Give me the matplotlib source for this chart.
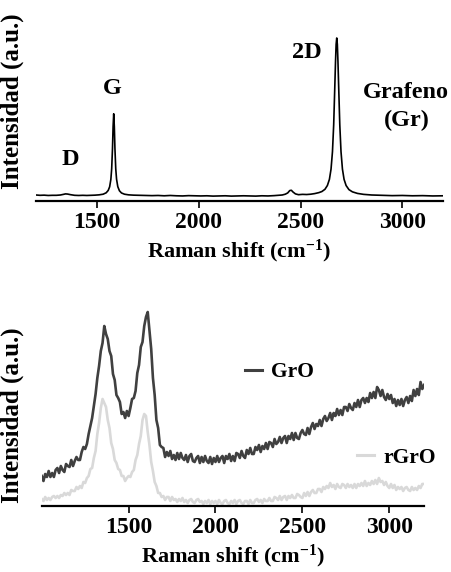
import numpy as np
import matplotlib
matplotlib.use("Agg")
import matplotlib.pyplot as plt

# --- Grafeno (Gr) spectrum, normalised so the 2D peak is 1 ---
gr_shift = [1200, 1220, 1240, 1260, 1280, 1300, 1320, 1335, 1345, 1355, 1370, 1390,
            1410, 1430, 1450, 1470, 1490, 1510, 1530, 1545, 1555, 1562, 1568, 1572,
            1576, 1579, 1582, 1585, 1588, 1592, 1596, 1602, 1610, 1620, 1635, 1655,
            1680, 1710, 1740, 1770, 1800, 1830, 1860, 1890, 1920, 1950, 1980, 2010,
            2040, 2070, 2100, 2130, 2160, 2190, 2220, 2250, 2280, 2310, 2340, 2370,
            2390, 2410, 2425, 2437, 2447, 2455, 2463, 2475, 2490, 2510, 2530, 2550,
            2570, 2590, 2605, 2620, 2632, 2642, 2650, 2657, 2663, 2668, 2672, 2675,
            2678, 2681, 2684, 2688, 2693, 2699, 2706, 2714, 2724, 2738, 2755, 2780,
            2810, 2850, 2900, 2950, 3000, 3050, 3100, 3150, 3200]
gr_int = [0.006, 0.004, 0.005, 0.003, 0.004, 0.004, 0.006, 0.010, 0.013, 0.012, 0.008, 0.004,
          0.003, 0.004, 0.003, 0.004, 0.005, 0.007, 0.011, 0.020, 0.035, 0.058, 0.105, 0.172,
          0.300, 0.440, 0.520, 0.440, 0.300, 0.172, 0.106, 0.059, 0.033, 0.019, 0.011, 0.007,
          0.005, 0.004, 0.003, 0.002, 0.003, 0.001, 0.003, 0.001, 0.000, 0.002, 0.001, 0.000,
          0.001, -0.001, 0.000, 0.001, -0.001, 0.000, 0.001, 0.000, -0.001, 0.001, 0.000, 0.002,
          0.004, 0.006, 0.011, 0.019, 0.034, 0.036, 0.025, 0.013, 0.008, 0.010, 0.009, 0.011,
          0.015, 0.021, 0.028, 0.042, 0.066, 0.105, 0.170, 0.280, 0.450, 0.670, 0.850, 0.960,
          1.000, 0.960, 0.850, 0.670, 0.450, 0.280, 0.170, 0.105, 0.066, 0.040, 0.026, 0.016,
          0.010, 0.006, 0.004, 0.002, 0.003, 0.001, 0.002, 0.000, 0.001]

gr_ticks = [1500, 2000, 2500, 3000]
gr_peaks = ["D", "G", "2D"]
gr_peak_pos = [(1367, 0.23), (1577, 0.68), (2533, 0.91)]

# --- GrO and rGrO spectra (a.u.), sampled every 10 cm-1 from 1000 to 3200 ---
go_shift = np.arange(1000, 3201, 10)
gro_int = [
    30, 25, 32, 29, 35, 29, 33, 29, 36, 38,            # 1000
    33, 40, 36, 34, 42, 40, 39, 46, 40, 45,            # 1100
    49, 46, 46, 54, 59, 57, 62, 72, 80, 88,            # 1200
    100, 112, 128, 140, 155, 163, 180, 172, 167, 155,  # 1300
    150, 132, 126, 111, 108, 104, 92, 94, 88, 95,      # 1400
    90, 98, 107, 108, 115, 133, 141, 159, 164, 180,    # 1500
    189, 194, 175, 157, 128, 111, 86, 78, 61, 59,      # 1600
    58, 49, 54, 50, 55, 47, 51, 46, 53, 47,            # 1700
    53, 48, 46, 51, 44, 50, 52, 45, 44, 48,            # 1800
    50, 43, 49, 44, 50, 45, 43, 49, 42, 48,            # 1900
    44, 50, 44, 48, 50, 43, 50, 47, 52, 45,            # 2000
    50, 45, 53, 52, 48, 55, 50, 48, 56, 52,            # 2100
    58, 52, 52, 59, 56, 61, 54, 60, 57, 63,            # 2200
    57, 64, 63, 59, 67, 62, 64, 69, 63, 68,            # 2300
    70, 63, 70, 67, 73, 66, 73, 68, 67, 73,            # 2400
    76, 72, 71, 78, 72, 79, 83, 77, 82, 80,            # 2500
    86, 80, 87, 90, 85, 88, 93, 86, 93, 90,            # 2600
    97, 91, 96, 91, 99, 99, 95, 102, 98, 96,           # 2700
    103, 99, 106, 99, 106, 108, 103, 108, 104, 113,    # 2800
    108, 114, 108, 119, 116, 110, 116, 109, 106, 112,  # 2900
    107, 111, 103, 107, 100, 106, 101, 107, 100, 106,  # 3000
    109, 103, 110, 105, 116, 110, 117, 111, 124, 117,  # 3100
    121]
rgro_int = [
    7, 5, 9, 6, 8, 6, 9, 10, 8, 10,
    8, 11, 10, 13, 11, 13, 11, 16, 15, 15,
    19, 17, 20, 18, 24, 23, 28, 30, 37, 38,
    48, 55, 72, 83, 98, 107, 103, 99, 86, 78,
    63, 57, 46, 43, 37, 36, 30, 30, 25, 28,
    30, 29, 34, 36, 46, 51, 62, 70, 86, 92,
    90, 74, 61, 44, 35, 24, 20, 13, 13, 9,
    10, 6, 9, 9, 5, 9, 6, 7, 4, 7,
    5, 8, 4, 6, 3, 6, 7, 4, 3, 6,
    7, 4, 5, 2, 5, 3, 6, 2, 5, 3,
    5, 2, 6, 3, 2, 5, 6, 3, 2, 5,
    3, 6, 2, 5, 6, 3, 2, 5, 5, 2,
    6, 3, 3, 6, 7, 4, 6, 3, 7, 5,
    5, 8, 5, 5, 9, 8, 6, 10, 6, 9,
    10, 6, 10, 8, 11, 8, 8, 12, 11, 9,
    8, 13, 10, 14, 10, 14, 16, 13, 13, 17,
    17, 14, 19, 17, 20, 18, 23, 19, 21, 17,
    22, 19, 18, 22, 21, 18, 22, 19, 21, 18,
    22, 18, 22, 20, 23, 20, 25, 20, 23, 21,
    25, 22, 26, 22, 28, 24, 25, 21, 24, 20,
    18, 22, 18, 21, 16, 19, 17, 19, 15, 18,
    19, 16, 15, 19, 16, 18, 16, 20, 18, 22,
    22]
go_ticks = [1500, 2000, 2500, 3000]

plt.rcParams["font.family"] = ["Liberation Serif", "DejaVu Serif"]
plt.rcParams["font.weight"] = "bold"
plt.rcParams["mathtext.fontset"] = "custom"
plt.rcParams["mathtext.rm"] = "Liberation Serif:bold"
plt.rcParams["mathtext.it"] = "Liberation Serif:italic:bold"
plt.rcParams["mathtext.bf"] = "Liberation Serif:bold"


def style_axis(ax, ticks):
    for side in ("left", "right", "top"):
        ax.spines[side].set_visible(False)
    ax.spines["bottom"].set_linewidth(1.6)
    ax.set_yticks([])
    ax.set_xticks(ticks)
    ax.tick_params(axis="x", direction="out", length=5, width=1.2,
                   labelsize=17, pad=3)
    ax.set_xlabel("Raman shift (cm$^{-1}$)", fontsize=16, fontweight="bold", labelpad=3)


fig = plt.figure(figsize=(4.52, 5.72), dpi=100)

# top panel: graphene
ax1 = fig.add_axes([0.0796, 0.6486, 0.9004, 0.3339])
ax1.plot(gr_shift, gr_int, color="black", lw=1.2)
ax1.set_xlim(1200, 3200)
ax1.set_ylim(-0.032, 1.177)
style_axis(ax1, gr_ticks)
ax1.set_ylabel("Intensidad (a.u.)", fontsize=18, fontweight="bold")
ax1.yaxis.set_label_coords(-0.03, 0.52)
for name, (px, py) in zip(gr_peaks, gr_peak_pos):
    ax1.text(px, py, name, fontsize=17.5, fontweight="bold", ha="center", va="center")
ax1.text(3020, 0.565, "Grafeno\n(Gr)", fontsize=17.5, fontweight="bold",
         ha="center", va="center", linespacing=1.45)

# bottom panel: GrO / rGrO
ax2 = fig.add_axes([0.0923, 0.1154, 0.8458, 0.3601])
l_gro, = ax2.plot(go_shift, gro_int, color="#404040", lw=1.9)
l_rgro, = ax2.plot(go_shift, rgro_int, color="#d9d9d9", lw=1.9)
ax2.set_xlim(1000, 3200)
ax2.set_ylim(0, 206)
style_axis(ax2, go_ticks)
ax2.set_ylabel("Intensidad (a.u.)", fontsize=18, fontweight="bold")
ax2.yaxis.set_label_coords(-0.046, 0.44)

leg_kw = dict(frameon=False, fontsize=15.5, handlelength=0.8, handletextpad=0.4,
              borderpad=0, borderaxespad=0, loc="center left")
leg1 = ax2.legend([l_gro], ["GrO"], bbox_to_anchor=(0.532, 0.65), **leg_kw)
for h in leg1.get_lines():
    h.set_linewidth(2.2)
ax2.add_artist(leg1)
leg2 = ax2.legend([l_rgro], ["rGrO"], bbox_to_anchor=(0.825, 0.235), **leg_kw)
for h in leg2.get_lines():
    h.set_linewidth(2.2)

fig.savefig("out.png", dpi=100)
